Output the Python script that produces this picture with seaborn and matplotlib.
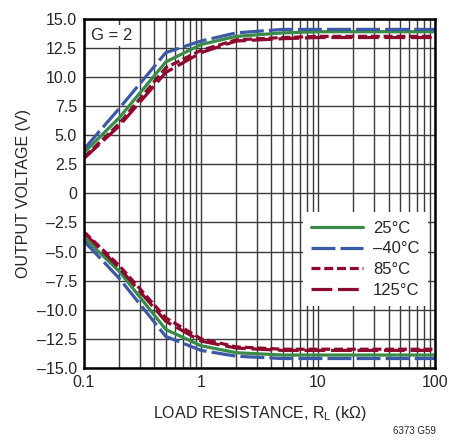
import matplotlib
matplotlib.use('Agg')
import matplotlib.pyplot as plt
import seaborn as sns

# load resistance (kOhm) and output swing (V)
r_load = [0.1, 0.2, 0.5, 1, 2, 5, 10, 20, 50, 100]

hi_25 = [3.5, 6.5, 11.3, 12.8, 13.5, 13.8, 13.9, 13.9, 13.9, 13.9]
hi_m40 = [3.8, 7.3, 12.1, 13.1, 13.8, 14.1, 14.1, 14.1, 14.1, 14.1]
hi_85 = [3.1, 6.0, 10.8, 12.3, 13.2, 13.4, 13.5, 13.5, 13.5, 13.5]
hi_125 = [3.0, 5.8, 10.4, 12.1, 13.1, 13.3, 13.4, 13.4, 13.4, 13.4]

lo_25 = [-3.8, -6.7, -11.7, -13.1, -13.7, -13.9, -13.9, -13.9, -13.9, -13.9]
lo_m40 = [-4.1, -7.3, -12.3, -13.5, -14.0, -14.2, -14.2, -14.2, -14.2, -14.2]
lo_85 = [-3.3, -6.2, -10.7, -12.5, -13.2, -13.4, -13.4, -13.4, -13.4, -13.4]
lo_125 = [-3.4, -6.4, -11.0, -12.7, -13.3, -13.5, -13.5, -13.5, -13.5, -13.5]

labels = ['25°C', '–40°C', '85°C', '125°C']
colors = ['#3a8a48', '#3b5aa6', '#8c0a2e', '#8c0a2e']
styles = ['-', (0, (7.5, 1.6)), (0, (2.8, 1.2)), (0, (6.5, 1.8))]

y_ticks = [15, 12.5, 10, 7.5, 5, 2.5, 0, -2.5, -5, -7.5, -10, -12.5, -15]

sns.set_style('white')
plt.rcParams['font.family'] = ['Liberation Sans', 'DejaVu Sans']

fig = plt.figure(figsize=(4.49, 4.40), dpi=100)
ax = fig.add_axes([0.187, 0.164, 0.782, 0.793])
ax.set_xscale('log')

# grid first so curves sit on top
ax.set_xlim(0.1, 100)
ax.set_ylim(-15, 15)
ax.set_yticks(y_ticks)
ax.grid(True, which='both', axis='x', color='#3a3a3a', lw=1.0)
ax.grid(True, which='major', axis='y', color='#3a3a3a', lw=1.0)
ax.set_axisbelow(True)

for hi, lo, lab, c, ls in zip([hi_25, hi_m40, hi_85, hi_125],
                              [lo_25, lo_m40, lo_85, lo_125],
                              labels, colors, styles):
    sns.lineplot(x=r_load, y=hi, color=c, lw=2.3, linestyle=ls, label=lab, ax=ax)
    sns.lineplot(x=r_load, y=lo, color=c, lw=2.3, linestyle=ls, ax=ax)

ax.set_xticks([0.1, 1, 10, 100])
ax.set_xticklabels(['0.1', '1', '10', '100'])
ax.set_yticklabels(['0' if v == 0 else f'{v:.1f}'.replace('-', '–') for v in y_ticks])
ax.tick_params(axis='both', which='both', length=0, labelsize=11.5, pad=5)

for s in ax.spines.values():
    s.set_color('black')
    s.set_linewidth(1.8)

ax.set_xlabel('LOAD RESISTANCE, R$_\\mathregular{L}$ (kΩ)', fontsize=11.5, labelpad=10)
ax.set_ylabel('OUTPUT VOLTAGE (V)', fontsize=11.5, labelpad=4)

ax.text(0.115, 13.6, 'G = 2', fontsize=12, va='center', ha='left',
        bbox=dict(facecolor='white', edgecolor='none', pad=2))

leg = ax.legend(loc='upper left', bbox_to_anchor=(0.6, 0.47), frameon=True,
                fontsize=12, handlelength=3.1, labelspacing=0.35,
                borderpad=0.5, handletextpad=0.6)
leg.get_frame().set_facecolor('white')
leg.get_frame().set_edgecolor('none')
leg.get_frame().set_alpha(1)
leg.get_frame().set_boxstyle('square', pad=0)

fig.text(0.922, 0.008, '6373 G59', fontsize=7, ha='center', va='bottom')

fig.savefig('out.png', dpi=100)
